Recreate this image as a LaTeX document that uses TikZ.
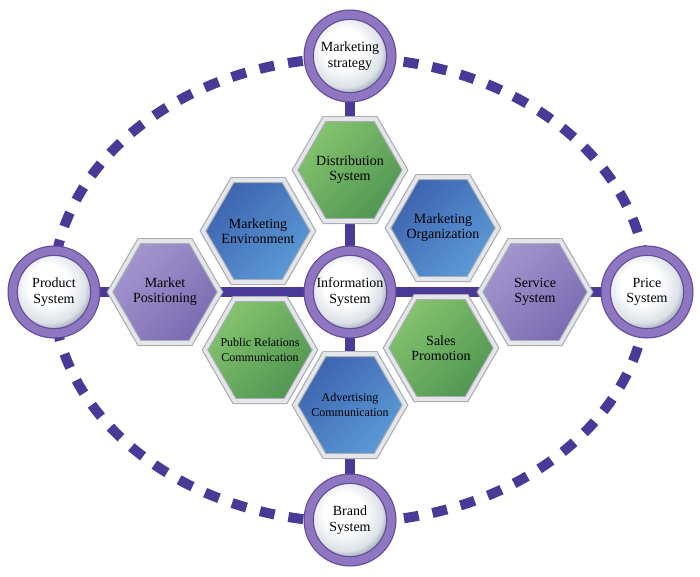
\documentclass[tikz,border=0pt]{standalone}
\usepackage{fontspec}
\setmainfont{Liberation Serif}
\usetikzlibrary{shapes.symbols,backgrounds}
\definecolor{dashblue}{HTML}{4A3A98}
\definecolor{ringD}{HTML}{634A9A}
\definecolor{ringL}{HTML}{8E76C0}
\definecolor{greenL}{HTML}{86C46E}
\definecolor{greenD}{HTML}{4F9552}
\definecolor{blueL}{HTML}{5C9BD7}
\definecolor{blueD}{HTML}{3D63AF}
\definecolor{purpL}{HTML}{A497CF}
\definecolor{purpD}{HTML}{7A6AB2}
\definecolor{silverD}{HTML}{A9ADB4}
\definecolor{silverL}{HTML}{E4E6E9}
\definecolor{discL}{HTML}{DCE2E8}
\definecolor{discE}{HTML}{AEB8C3}
\pgfdeclareradialshading{discshade}{\pgfpoint{-5bp}{6bp}}{color(0bp)=(white); color(12bp)=(white); color(22bp)=(discL); color(25bp)=(discE); color(50bp)=(discE)}
\tikzset{
	hub/.style={circle,minimum size=82.6pt,inner sep=0pt,shade,shading=discshade,draw=ringD,double=ringL,line width=1.2pt,double distance=8pt,align=center,font=\fontsize{14}{15.5}\selectfont},
	hexa/.style 2 args={signal,signal to=east and west,signal pointer angle=120,minimum width=110pt,minimum height=102pt,inner sep=0pt,draw=silverD,double=silverL,line width=1.2pt,double distance=3.6pt,label={[align=center,font=#2]center:{#1}}},
	ghex/.style 2 args={hexa={#1}{#2},top color=greenL,bottom color=greenD,shading angle=45},
	bhex/.style 2 args={hexa={#1}{#2},top color=blueD,bottom color=blueL,shading angle=45},
	phex/.style 2 args={hexa={#1}{#2},top color=purpL,bottom color=purpD,shading angle=45},
	bar/.style={dashblue,line width=10pt}
}
\newcommand{\bigtxt}{\fontsize{14}{15}\selectfont}
\newcommand{\smalltxt}{\fontsize{12}{15}\selectfont}
\begin{document}
\begin{tikzpicture}[x=1pt,y=-1pt]
	\useasboundingbox (0,0) rectangle (700,576);
	\node [hub] (strategy) at (350,56) {Marketing\\strategy};
	\node [hub] (product) at (54,292) {Product\\System};
	\node [hub] (price) at (647,292) {Price\\System};
	\node [hub] (brand) at (350,520) {Brand\\System};
	\node [hub] (info) at (350,292) {Information\\System};

	\node [ghex={Distribution\\System}{\bigtxt}] (distribution) at (350,170) {};
	\node [bhex={Marketing\\Environment}{\bigtxt}] (environment) at (258,231) {};
	\node [bhex={Marketing\\Organization}{\bigtxt}] (organization) at (443,228) {};
	\node [phex={Market\\Positioning}{\bigtxt}] (positioning) at (165,292) {};
	\node [phex={Service\\System}{\bigtxt}] (service) at (535,292) {};
	\node [ghex={Public Relations\\Communication}{\smalltxt}] (publicrel) at (260,350) {};
	\node [ghex={Sales\\Promotion}{\bigtxt}] (sales) at (441,348) {};
	\node [bhex={Advertising\\Communication}{\smalltxt}] (advertising) at (350,405) {};

	\begin{scope}[on background layer]
		\draw [dashblue,line width=10pt,dash pattern=on 15pt off 14pt] (350,290) ellipse [x radius=297,y radius=232];
		\draw [bar] (strategy.center) -- (distribution.center) -- (info.center) -- (advertising.center) -- (brand.center);
		\draw [bar] (product.center) -- (positioning.center) -- (info.center) -- (service.center) -- (price.center);
	\end{scope}
\end{tikzpicture}
\end{document}
